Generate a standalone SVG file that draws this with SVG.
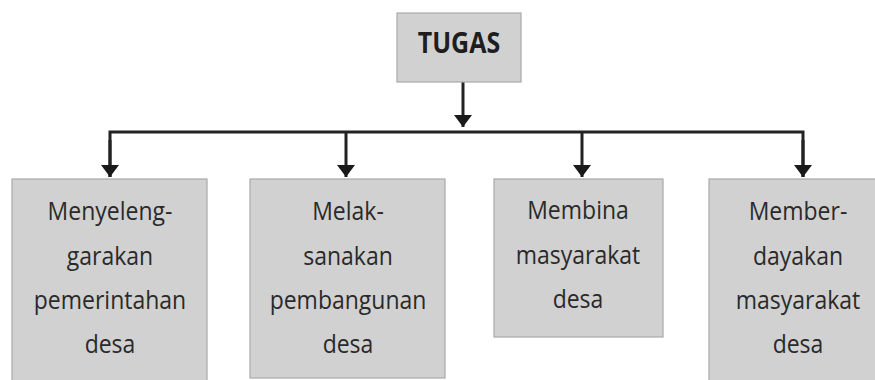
<svg xmlns="http://www.w3.org/2000/svg" width="875" height="380" viewBox="0 0 875 380">
<style>
.box{fill:#d1d1d1;stroke:#a9a9a9;stroke-width:1.2}
.t{font-family:"Open Sans","Noto Sans","Liberation Sans",sans-serif;font-size:23px;fill:#2a2a2a;text-anchor:middle}
.b{font-weight:bold;font-size:25px;fill:#1e1e1e}
.ln{fill:none;stroke:#222;stroke-width:3}
</style>
<defs>
<marker id="ah" viewBox="0 0 10 10" refX="10" refY="5" markerWidth="6" markerHeight="6" markerUnits="userSpaceOnUse" orient="auto">
<path d="M0,0 L10,5 L0,10 z" fill="#1a1a1a"/>
</marker>
<marker id="ah2" viewBox="0 0 12 18" refX="12" refY="9" markerWidth="12" markerHeight="18" markerUnits="userSpaceOnUse" orient="auto">
<path d="M0,0 L12,9 L0,18 z" fill="#1a1a1a"/>
</marker>
</defs>
<rect width="875" height="380" fill="#fff"/>
<g id="connectors">
<path class="ln" d="M463,82 V127" marker-end="url(#ah2)"/>
<path class="ln" d="M110,177 V132 H803 V177"/>
<path class="ln" d="M110,140 V177" marker-end="url(#ah2)"/>
<path class="ln" d="M346,132 V177" marker-end="url(#ah2)"/>
<path class="ln" d="M582,132 V177" marker-end="url(#ah2)"/>
<path class="ln" d="M803,140 V177" marker-end="url(#ah2)"/>
</g>
<g id="tugas">
<rect class="box" x="397" y="13" width="124" height="69"/>
<text class="t b" transform="translate(459,53) scale(1,1.12)">TUGAS</text>
</g>
<g id="node1">
<rect class="box" x="12" y="179" width="195" height="215"/>
<text class="t" transform="translate(110,220) scale(1,1.12)">Menyeleng-</text>
<text class="t" transform="translate(110,265) scale(1,1.12)">garakan</text>
<text class="t" transform="translate(110,309) scale(1,1.12)">pemerintahan</text>
<text class="t" transform="translate(110,353) scale(1,1.12)">desa</text>
</g>
<g id="node2">
<rect class="box" x="250" y="179" width="195" height="199"/>
<text class="t" transform="translate(348,220) scale(1,1.12)">Melak-</text>
<text class="t" transform="translate(348,265) scale(1,1.12)">sanakan</text>
<text class="t" transform="translate(348,309) scale(1,1.12)">pembangunan</text>
<text class="t" transform="translate(348,353) scale(1,1.12)">desa</text>
</g>
<g id="node3">
<rect class="box" x="494" y="179" width="169" height="158"/>
<text class="t" transform="translate(578,219) scale(1,1.12)">Membina</text>
<text class="t" transform="translate(578,264) scale(1,1.12)">masyarakat</text>
<text class="t" transform="translate(578,308) scale(1,1.12)">desa</text>
</g>
<g id="node4">
<rect class="box" x="709" y="179" width="180" height="215"/>
<text class="t" transform="translate(798,220) scale(1,1.12)">Member-</text>
<text class="t" transform="translate(798,265) scale(1,1.12)">dayakan</text>
<text class="t" transform="translate(798,309) scale(1,1.12)">masyarakat</text>
<text class="t" transform="translate(798,353) scale(1,1.12)">desa</text>
</g>
</svg>
